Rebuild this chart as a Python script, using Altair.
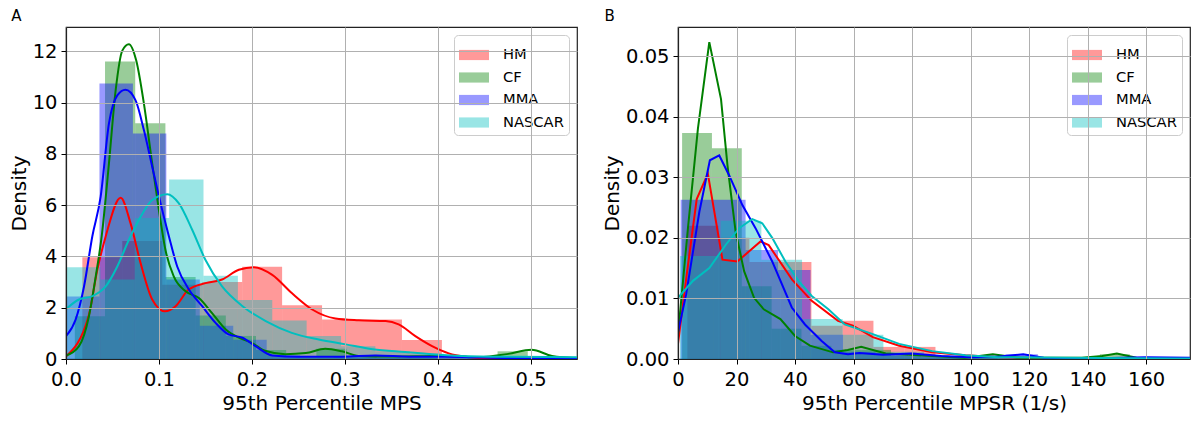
import altair as alt
import pandas as pd

GROUPS = ["HM", "CF", "MMA", "NASCAR"]
COLORS = ["#ff0000", "#008000", "#0000ff", "#00bfbf"]

# ---------------- Panel A : 95th percentile MPS ----------------
# histogram bins: (first edge, bin width, densities)
A_HM_START, A_HM_WIDTH = 0.0176, 0.043
A_HM_DENS = [3.97, 4.6, 2.9, 3.0, 3.6, 2.1, 1.54, 1.54, 0.74, 0.12]
A_CF_START, A_CF_WIDTH = 0.0095, 0.0325
A_CF_DENS = [1.67, 11.6, 9.2, 3.2, 1.7, 0.9, 0.35, 0.1, 0.4, 0.1, 0.05, 0.05, 0.0, 0.05, 0.3]
A_MMA_START, A_MMA_WIDTH = 0.0, 0.036
A_MMA_DENS = [2.44, 10.75, 8.8, 3.1, 1.3, 0.75, 0.15, 0.05, 0.1, 0.1, 0.05, 0.05, 0.05]
A_NAS_START, A_NAS_WIDTH = 0.0, 0.037
A_NAS_DENS = [3.58, 3.1, 5.5, 7.0, 3.25, 2.3, 1.5, 0.9, 0.5, 0.3, 0.2, 0.1, 0.1, 0.05, 0.05]

# KDE curves
A_HM_KX = [0.0, 0.0247, 0.0337, 0.0427, 0.0588, 0.0695, 0.0803, 0.0928, 0.1065, 0.118, 0.132, 0.15, 0.168,
           0.186, 0.202, 0.222, 0.243, 0.265, 0.29, 0.315, 0.344, 0.358, 0.376, 0.394, 0.412, 0.433, 0.458, 0.55]
A_HM_KY = [0.1, 1.73, 3.48, 4.78, 6.29, 5.29, 3.74, 2.32, 1.86, 2.06, 2.71, 2.96, 3.1,
           3.48, 3.58, 3.28, 2.57, 1.93, 1.58, 1.51, 1.48, 1.35, 0.89, 0.5, 0.22, 0.08, 0.02, 0.0]
A_CF_KX = [0.0, 0.014, 0.0247, 0.032, 0.0384, 0.0462, 0.0534, 0.0606, 0.0677, 0.0756, 0.0839, 0.0928, 0.1,
           0.107, 0.116, 0.1287, 0.143, 0.157, 0.172, 0.186, 0.2, 0.215, 0.236, 0.258, 0.279, 0.297, 0.315,
           0.351, 0.404, 0.444, 0.476, 0.501, 0.523, 0.55]
A_CF_KY = [0.13, 0.5, 1.67, 3.22, 4.78, 7.62, 10.47, 12.03, 12.28, 11.64, 9.95, 7.62, 5.81,
           4.26, 3.22, 2.64, 2.38, 1.8, 1.15, 0.83, 0.63, 0.31, 0.19, 0.23, 0.4, 0.3, 0.12,
           0.1, 0.12, 0.08, 0.2, 0.36, 0.12, 0.03]
A_MMA_KX = [0.0, 0.0104, 0.0194, 0.0283, 0.0373, 0.0462, 0.0552, 0.064, 0.0749, 0.0839, 0.0928, 0.1018,
            0.1108, 0.1197, 0.1323, 0.1466, 0.161, 0.175, 0.19, 0.204, 0.222, 0.25, 0.297, 0.333, 0.369,
            0.423, 0.476, 0.55]
A_MMA_KY = [0.89, 1.54, 2.83, 4.78, 6.33, 9.18, 10.28, 10.5, 10.09, 8.92, 7.5, 6.07,
            4.78, 3.61, 2.71, 2.06, 1.41, 0.96, 0.83, 0.5, 0.14, 0.09, 0.09, 0.14, 0.09,
            0.08, 0.04, 0.03]
A_NAS_KX = [0.0, 0.014, 0.0283, 0.0427, 0.0552, 0.0677, 0.0803, 0.0928, 0.109, 0.1215, 0.1358, 0.15,
            0.168, 0.19, 0.215, 0.243, 0.272, 0.301, 0.33, 0.365, 0.405, 0.458, 0.523, 0.55]
A_NAS_KY = [1.95, 2.32, 2.45, 2.83, 3.61, 4.65, 5.55, 6.2, 6.43, 6.07, 5.04, 3.87,
            2.83, 2.06, 1.48, 1.02, 0.76, 0.57, 0.38, 0.27, 0.16, 0.09, 0.08, 0.07]

# ---------------- Panel B : 95th percentile MPSR ----------------
B_HM_START, B_HM_WIDTH = 3.2, 10.6
B_HM_DENS = [0.022, 0.02, 0.016, 0.016, 0.0055, 0.0063, 0.002, 0.002, 0.0005, 0.0002]
B_CF_START, B_CF_WIDTH = 1.4, 10.2
B_CF_DENS = [0.0373, 0.0348, 0.012, 0.005, 0.0022, 0.0015, 0.0015, 0.0005, 0.0003, 0.0005,
             0.0005, 0.0002, 0.0, 0.0, 0.0008]
B_MMA_START, B_MMA_WIDTH = 0.9, 11.1
B_MMA_DENS = [0.0263, 0.0263, 0.018, 0.0147, 0.004, 0.0012, 0.001, 0.0005, 0.0003, 0.0005,
              0.0008, 0.0002, 0.0002, 0.0003, 0.0003]
B_NAS_START, B_NAS_WIDTH = 0.7, 13.9
B_NAS_DENS = [0.017, 0.0228, 0.0164, 0.0066, 0.004, 0.0012, 0.0005, 0.0002, 0.0001, 0.0001]

B_HM_KX = [0, 3.0, 6.4, 10.2, 15.2, 20.3, 28.2, 31, 39, 45.7, 54.7, 59.8, 66.6, 75.6, 86.9, 98.2, 110, 130, 175]
B_HM_KY = [0.0025, 0.014, 0.0264, 0.0306, 0.0164, 0.0161, 0.0194, 0.0188, 0.0131, 0.0096, 0.0063, 0.0055,
           0.0036, 0.0022, 0.0011, 0.0006, 0.0003, 0.0001, 0.0]
B_CF_KX = [0, 3.4, 6.8, 10.7, 14.7, 16.9, 19.7, 22.6, 26, 29.3, 35, 40, 45.1, 53, 58, 62.6, 71, 82.3,
           98, 103, 107.6, 112, 116, 138, 145, 150, 156.7, 175]
B_CF_KY = [0.004, 0.0216, 0.038, 0.0523, 0.0429, 0.032, 0.021, 0.0145, 0.0101, 0.0082, 0.0066, 0.0038,
           0.0022, 0.0011, 0.0015, 0.002, 0.0009, 0.0006, 0.0002, 0.0005, 0.0008, 0.0005, 0.0002, 0.0002,
           0.0005, 0.0009, 0.0002, 0.0001]
B_MMA_KX = [0, 2.8, 7.3, 10.9, 14.1, 17.5, 22, 26.5, 32.2, 38.9, 43.4, 49, 53.6, 58.1, 62, 70, 80, 90,
            100, 110, 118, 125, 140, 160, 175]
B_MMA_KY = [0.0044, 0.0107, 0.0243, 0.0328, 0.0336, 0.0303, 0.0254, 0.0216, 0.0161, 0.0085, 0.0057,
            0.003, 0.0011, 0.0008, 0.001, 0.0007, 0.0009, 0.0005, 0.0003, 0.0004, 0.0008, 0.0002,
            0.0001, 0.0003, 0.0002]
B_NAS_KX = [0, 5.1, 10.7, 16.4, 20.9, 25.4, 28.8, 32.2, 36.7, 41.2, 45.7, 51.4, 57, 66.6, 75.6, 86.9,
            98.2, 109.5, 132, 170, 175]
B_NAS_KY = [0.0101, 0.0129, 0.015, 0.0189, 0.0216, 0.0231, 0.0224, 0.02, 0.0161, 0.0129, 0.0104,
            0.0082, 0.0057, 0.0041, 0.0025, 0.0013, 0.0006, 0.0003, 0.0002, 0.0001, 0.0001]

A_XTICKS = [0.0, 0.1, 0.2, 0.3, 0.4, 0.5]
A_YTICKS = [0, 2, 4, 6, 8, 10, 12]
B_XTICKS = [0, 20, 40, 60, 80, 100, 120, 140, 160]
B_YTICKS = [0.0, 0.01, 0.02, 0.03, 0.04, 0.05]

FONT = "DejaVu Sans"


def bars_frame(specs):
    rows = []
    for k, (g, start, width, dens) in enumerate(specs):
        for i, d in enumerate(dens):
            rows.append({"group": g, "ord": k * 100 + i,
                         "x0": start + i * width, "x1": start + (i + 1) * width,
                         "y0": 0.0, "y1": d})
    return pd.DataFrame(rows)


def lines_frame(specs):
    rows = []
    for g, xs, ys in specs:
        for x, y in zip(xs, ys):
            rows.append({"group": g, "x": x, "y": y})
    return pd.DataFrame(rows)


def panel(bars, lines, interp, xdom, ydom, xvals, yvals, xfmt, yfmt, xtitle, letter, w, h):
    xs = alt.Scale(domain=xdom, nice=False, zero=False)
    ys = alt.Scale(domain=ydom, nice=False)
    xaxis = alt.Axis(values=xvals, format=xfmt, title=xtitle, grid=True, zindex=1)
    yaxis = alt.Axis(values=yvals, format=yfmt, title="Density", grid=True, zindex=1)
    rect = alt.Chart(bars).mark_rect(fillOpacity=0.4, strokeWidth=0, clip=True).encode(
        x=alt.X("x0:Q", scale=xs, axis=xaxis),
        x2="x1:Q",
        y=alt.Y("y1:Q", scale=ys, axis=yaxis),
        y2="y0:Q",
        fill=alt.Fill("group:N", scale=alt.Scale(domain=GROUPS, range=COLORS),
                      legend=alt.Legend(title=None, orient="top-right", offset=8,
                                        symbolType="M-1,-0.34L1,-0.34L1,0.34L-1,0.34Z",
                                        symbolSize=900, symbolOpacity=0.4, symbolStrokeWidth=0,
                                        labelFont=FONT, labelFontSize=14.7, labelColor="#000",
                                        labelOffset=14, rowPadding=0.5, padding=5,
                                        fillColor="rgba(255,255,255,0.8)", strokeColor="#cccccc",
                                        cornerRadius=4)),
        order=alt.Order("ord:Q"),
    )
    line = alt.Chart(lines).mark_line(strokeWidth=2, interpolate=interp, clip=True).encode(
        x=alt.X("x:Q", scale=xs),
        y=alt.Y("y:Q", scale=ys),
        stroke=alt.Stroke("group:N", scale=alt.Scale(domain=GROUPS, range=COLORS), legend=None),
    )
    return alt.layer(rect, line).resolve_scale(fill="independent", stroke="independent").properties(
        width=w, height=h,
        title=alt.TitleParams(letter, anchor="start", font=FONT, fontSize=15, fontWeight="normal",
                              color="#000", offset=3, dx=2))


barsA = bars_frame([("HM", A_HM_START, A_HM_WIDTH, A_HM_DENS),
                    ("CF", A_CF_START, A_CF_WIDTH, A_CF_DENS),
                    ("MMA", A_MMA_START, A_MMA_WIDTH, A_MMA_DENS),
                    ("NASCAR", A_NAS_START, A_NAS_WIDTH, A_NAS_DENS)])
linesA = lines_frame([("HM", A_HM_KX, A_HM_KY), ("CF", A_CF_KX, A_CF_KY),
                      ("MMA", A_MMA_KX, A_MMA_KY), ("NASCAR", A_NAS_KX, A_NAS_KY)])
barsB = bars_frame([("HM", B_HM_START, B_HM_WIDTH, B_HM_DENS),
                    ("CF", B_CF_START, B_CF_WIDTH, B_CF_DENS),
                    ("MMA", B_MMA_START, B_MMA_WIDTH, B_MMA_DENS),
                    ("NASCAR", B_NAS_START, B_NAS_WIDTH, B_NAS_DENS)])
linesB = lines_frame([("HM", B_HM_KX, B_HM_KY), ("CF", B_CF_KX, B_CF_KY),
                      ("MMA", B_MMA_KX, B_MMA_KY), ("NASCAR", B_NAS_KX, B_NAS_KY)])

pA = panel(barsA, linesA, "monotone", [0, 0.55], [0, 12.95], A_XTICKS, A_YTICKS, ".1f", "d",
           "95th Percentile MPS", "A", 511, 332)
pB = panel(barsB, linesB, "linear", [0, 175], [0, 0.0548], B_XTICKS, B_YTICKS, "d", ".2f",
           "95th Percentile MPSR (1/s)", "B", 512, 332)

chart = alt.hconcat(pA, pB, spacing=23).resolve_scale(
    fill="independent", stroke="independent", x="independent", y="independent"
).resolve_legend(fill="independent").properties(
    padding={"left": 0, "top": 0, "right": 0, "bottom": 0}
).configure_view(stroke="#222", strokeWidth=1.2).configure_axis(
    labelFont=FONT, labelFontSize=19.5, labelColor="#000", labelPadding=4,
    titleFont=FONT, titleFontSize=20, titleFontWeight="normal", titleColor="#000", titlePadding=3,
    tickColor="#000", tickSize=5, tickWidth=1, domainColor="#222", domainWidth=1.2,
    gridColor="#b0b0b0", gridWidth=1, labelFlush=False,
).configure_axisX(titlePadding=4, labelPadding=6.5)

chart.save("out.html", embed_options={"renderer": "svg", "actions": False})
